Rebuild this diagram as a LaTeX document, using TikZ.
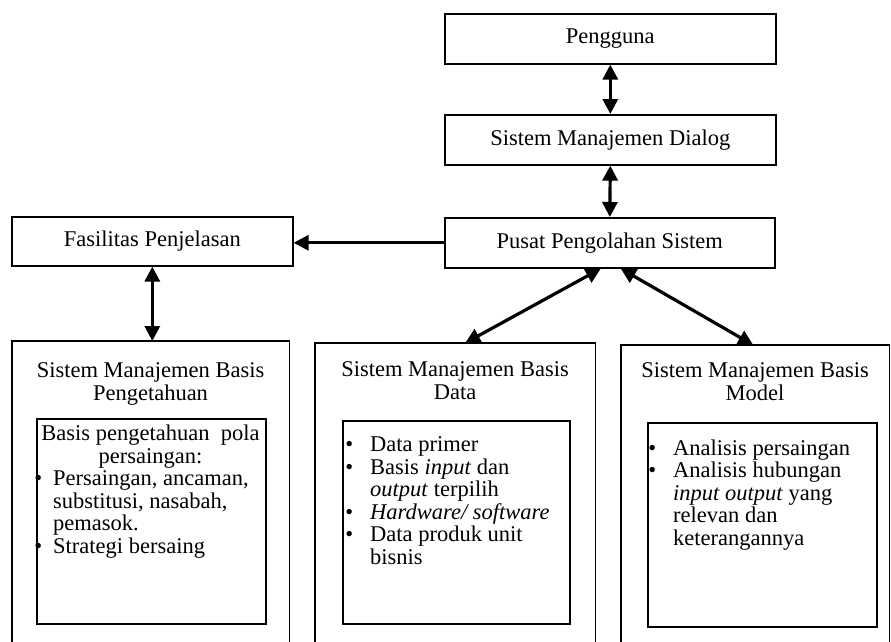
\documentclass[tikz,border=0pt]{standalone}
\usepackage{fontspec}
\setmainfont{Liberation Serif}
\usetikzlibrary{arrows.meta,calc}
\begin{document}
\begin{tikzpicture}[x=1pt,y=-1pt,
  box/.style={draw, line width=1.6pt, inner sep=0pt, anchor=north west,
    font=\fontsize{22.5}{22.5}\selectfont},
  frame/.style={inner sep=0pt, anchor=north west},
  side/.style={line width=1.6pt},
  txt/.style={inner sep=0pt, font=\fontsize{22.5}{22.5}\selectfont},
  conn/.style={line width=3.2pt, {Triangle[length=15pt,width=15pt]}-{Triangle[length=15pt,width=15pt]}},
  oneway/.style={line width=3pt, -{Triangle[length=15pt,width=15pt]}}
]
\useasboundingbox (0,0) rectangle (891,642);
\fill[white] (0,0) rectangle (891,642);

% top boxes
\node[box, minimum width=331pt, minimum height=50pt] (peng) at (444,13) {Pengguna};
\node[box, minimum width=331pt, minimum height=50pt] (smd) at (444,114) {Sistem Manajemen Dialog};
\node[box, minimum width=330pt, minimum height=50pt] (pusat) at (444,217) {Pusat Pengolahan Sistem};
\node[box, minimum width=281pt, minimum height=49pt] (fas) at (11,216) {Fasilitas Penjelasan};

% outer frames (open at the page bottom)
\node[frame, minimum width=277pt, minimum height=301pt] (smbp) at (12,341) {};
\node[frame, minimum width=280pt, minimum height=299pt] (smbd) at (315,343) {};
\node[frame, minimum width=268pt, minimum height=297pt] (smbm) at (621,345) {};
\draw[side] (smbp.south west) |- (smbp.north east) -- (smbp.south east);
\draw[side] (smbd.south west) |- (smbd.north east) -- (smbd.south east);
\draw[side] (smbm.south west) |- (smbm.north east) -- (smbm.south east);

% titles (base = last line)
\node[txt, anchor=base, align=center] (smbpT) at (150.5,400) {Sistem Manajemen Basis\\Pengetahuan};
\node[txt, anchor=base, align=center] (smbdT) at (455,399) {Sistem Manajemen Basis\\Data};
\node[txt, anchor=base, align=center] (smbmT) at (755,400) {Sistem Manajemen Basis\\Model};

% inner boxes
\node[box, minimum width=229pt, minimum height=205pt] (smbpI) at (36,418) {};
\node[box, minimum width=227pt, minimum height=203pt] (smbdI) at (342,420) {};
\node[box, minimum width=229pt, minimum height=204pt] (smbmI) at (647,422) {};

% inner texts (base = last line)
\node[txt, anchor=base, align=center] (smbpH) at (150.5,463) {Basis pengetahuan\ \ pola\\persaingan:};
\node[txt, anchor=base west, align=left] (smbpL) at (53,553)
  {\makebox[0pt][r]{\textbullet\hspace{11pt}}Persaingan, ancaman,\\
   substitusi, nasabah,\\
   pemasok.\\
   \makebox[0pt][r]{\textbullet\hspace{11pt}}Strategi bersaing};
\node[txt, anchor=base west, align=left] (smbdL) at (370,564)
  {\makebox[0pt][r]{\textbullet\hspace{17pt}}Data primer\\
   \makebox[0pt][r]{\textbullet\hspace{17pt}}Basis \textit{input} dan\\
   \textit{output} terpilih\\
   \makebox[0pt][r]{\textbullet\hspace{17pt}}\textit{Hardware/ software}\\
   \makebox[0pt][r]{\textbullet\hspace{17pt}}Data produk unit\\
   bisnis};
\node[txt, anchor=base west, align=left] (smbmL) at (673,545)
  {\makebox[0pt][r]{\textbullet\hspace{17pt}}Analisis persaingan\\
   \makebox[0pt][r]{\textbullet\hspace{17pt}}Analisis hubungan\\
   \textit{input output} yang\\
   relevan dan\\
   keterangannya};

% connectors
\draw[conn] (peng.south) -- (smd.north);
\draw[conn] (smd.south) -- (pusat.north);
\draw[oneway] (pusat.west) -- (pusat.west -| fas.east);
\draw[conn] (fas.south) -- (fas.south |- smbp.north);
\draw[conn] ($(pusat.south)+(-9,0)$) -- ($(smbd.north)+(10,0)$);
\draw[conn] ($(pusat.south)+(11,0)$) -- ($(smbm.north)+(-2,0)$);
\end{tikzpicture}
\end{document}
